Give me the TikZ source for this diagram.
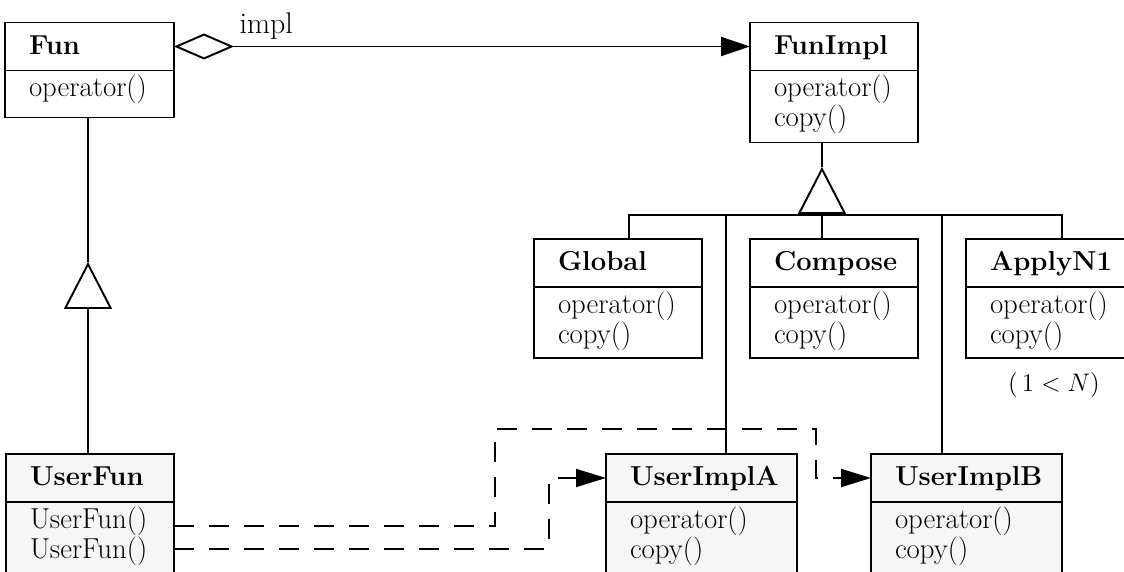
\documentclass[tikz,border=0pt]{standalone}
\usepackage{fontspec}
\usetikzlibrary{arrows.meta}
\definecolor{userfill}{RGB}{246,246,246}
\newcommand{\bodyfont}{\fontsize{16.4}{16.8}\selectfont}

\begin{document}
\begin{tikzpicture}[
    line width=1.1pt,
    txt/.style={font=\fontsize{17}{17}\selectfont},
    classhead/.style={draw, fill=white, anchor=north west, inner xsep=0.48cm, inner ysep=0pt,
      outer sep=0pt, text width=#1, align=left, text height=0.64cm, text depth=0.32cm,
      font=\fontsize{15.6}{15.6}\selectfont\bfseries},
    classbody/.style 2 args={draw, fill=white, anchor=north west, inner xsep=0.48cm, inner ysep=0pt,
      outer sep=0pt, text width=#1, align=left, text height=0.53cm, text depth=#2,
      font=\bodyfont},
    userclass/.style={fill=userfill},
    tri/.style={-{Triangle[open, length=0.94cm, width=0.96cm]}},
    call/.style={dash pattern=on 0.4cm off 0.3cm, -{Triangle[length=0.6cm, width=0.36cm]}},
]
    \useasboundingbox (0,0) rectangle (22.48,-11.44);
    \clip (0,0) rectangle (22.48,-11.44);

    % Fun and its implementation
    \node[classhead=2.42cm] (fun) at (0.10,-0.45) {Fun};
    \node[classbody={2.42cm}{0.41cm}] (funbody) at (fun.south west) {operator()};

    \node[classhead=2.40cm] (funimpl) at (15.00,-0.45) {FunImpl};
    \node[classbody={2.40cm}{0.91cm}] (funimplbody) at (funimpl.south west) {operator()\\copy()};

    % library implementations
    \node[classhead=2.40cm] (global) at (10.68,-4.78) {Global};
    \node[classbody={2.40cm}{0.89cm}] (globalbody) at (global.south west) {operator()\\copy()};

    \node[classhead=2.40cm] (compose) at (15.00,-4.78) {Compose};
    \node[classbody={2.40cm}{0.89cm}] (composebody) at (compose.south west) {operator()\\copy()};

    \node[classhead=2.40cm] (applyn1) at (19.32,-4.78) {ApplyN1};
    \node[classbody={2.40cm}{0.89cm}] (applyn1body) at (applyn1.south west) {operator()\\copy()};

    \node[font=\fontsize{13.5}{15}\selectfont] (bound) at (21.08,-7.70) {$(\,1 < N)$};

    % user classes
    \node[classhead=2.40cm, userclass] (userfun) at (0.12,-9.08) {UserFun};
    \node[classbody={2.40cm}{1.20cm}, userclass] (userfunbody) at (userfun.south west) {UserFun()\\UserFun()};

    \node[classhead=2.86cm, userclass] (userimpla) at (12.12,-9.08) {UserImplA};
    \node[classbody={2.86cm}{1.20cm}, userclass] (userimplabody) at (userimpla.south west) {operator()\\copy()};

    \node[classhead=2.86cm, userclass] (userimplb) at (17.42,-9.08) {UserImplB};
    \node[classbody={2.86cm}{1.20cm}, userclass] (userimplbbody) at (userimplb.south west) {operator()\\copy()};

    % aggregation
    \draw[{Diamond[open, length=1.2cm, width=0.52cm]}-{Triangle[length=0.58cm, width=0.38cm]}]
        (fun.east) -- node[pos=0.16, above, txt] {impl} (funimpl.west);

    % UserFun is a Fun
    \coordinate (funtip) at (1.76,-5.24);
    \draw[tri] (userfun.north -| funtip) -- (funtip);
    \draw (funtip) -- (funbody.south -| funtip);

    % subclasses of FunImpl
    \coordinate (implbar) at (16.44,-4.30);
    \coordinate (impltip) at (16.44,-3.34);
    \coordinate (barleft) at (12.58,-4.30);
    \coordinate (barright) at (21.24,-4.30);
    \coordinate (joina) at (14.52,-4.30);
    \coordinate (joinb) at (18.84,-4.30);
    \draw[tri] (implbar) -- (impltip);
    \draw (impltip) -- (impltip |- funimplbody.south);
    \draw (global.north -| barleft) -- (barleft) -- (barright) -- (applyn1.north -| barright);
    \draw (implbar) -- (compose.north -| implbar);
    \draw (joina) -- (userimpla.north -| joina);
    \draw (joinb) -- (userimplb.north -| joinb);

    % constructors create the implementations
    \coordinate (bendb) at (9.90,-8.58);
    \coordinate (turnb) at (16.32,-8.58);
    \coordinate (benda) at (10.98,-10.00);
    \draw[call] ([yshift=-0.48cm]userfunbody.north east) -| (bendb) -- (turnb) |- (userimplb.west);
    \draw[call] ([yshift=-0.94cm]userfunbody.north east) -| (benda |- userimpla.west) -- (userimpla.west);

\end{tikzpicture}
\end{document}
